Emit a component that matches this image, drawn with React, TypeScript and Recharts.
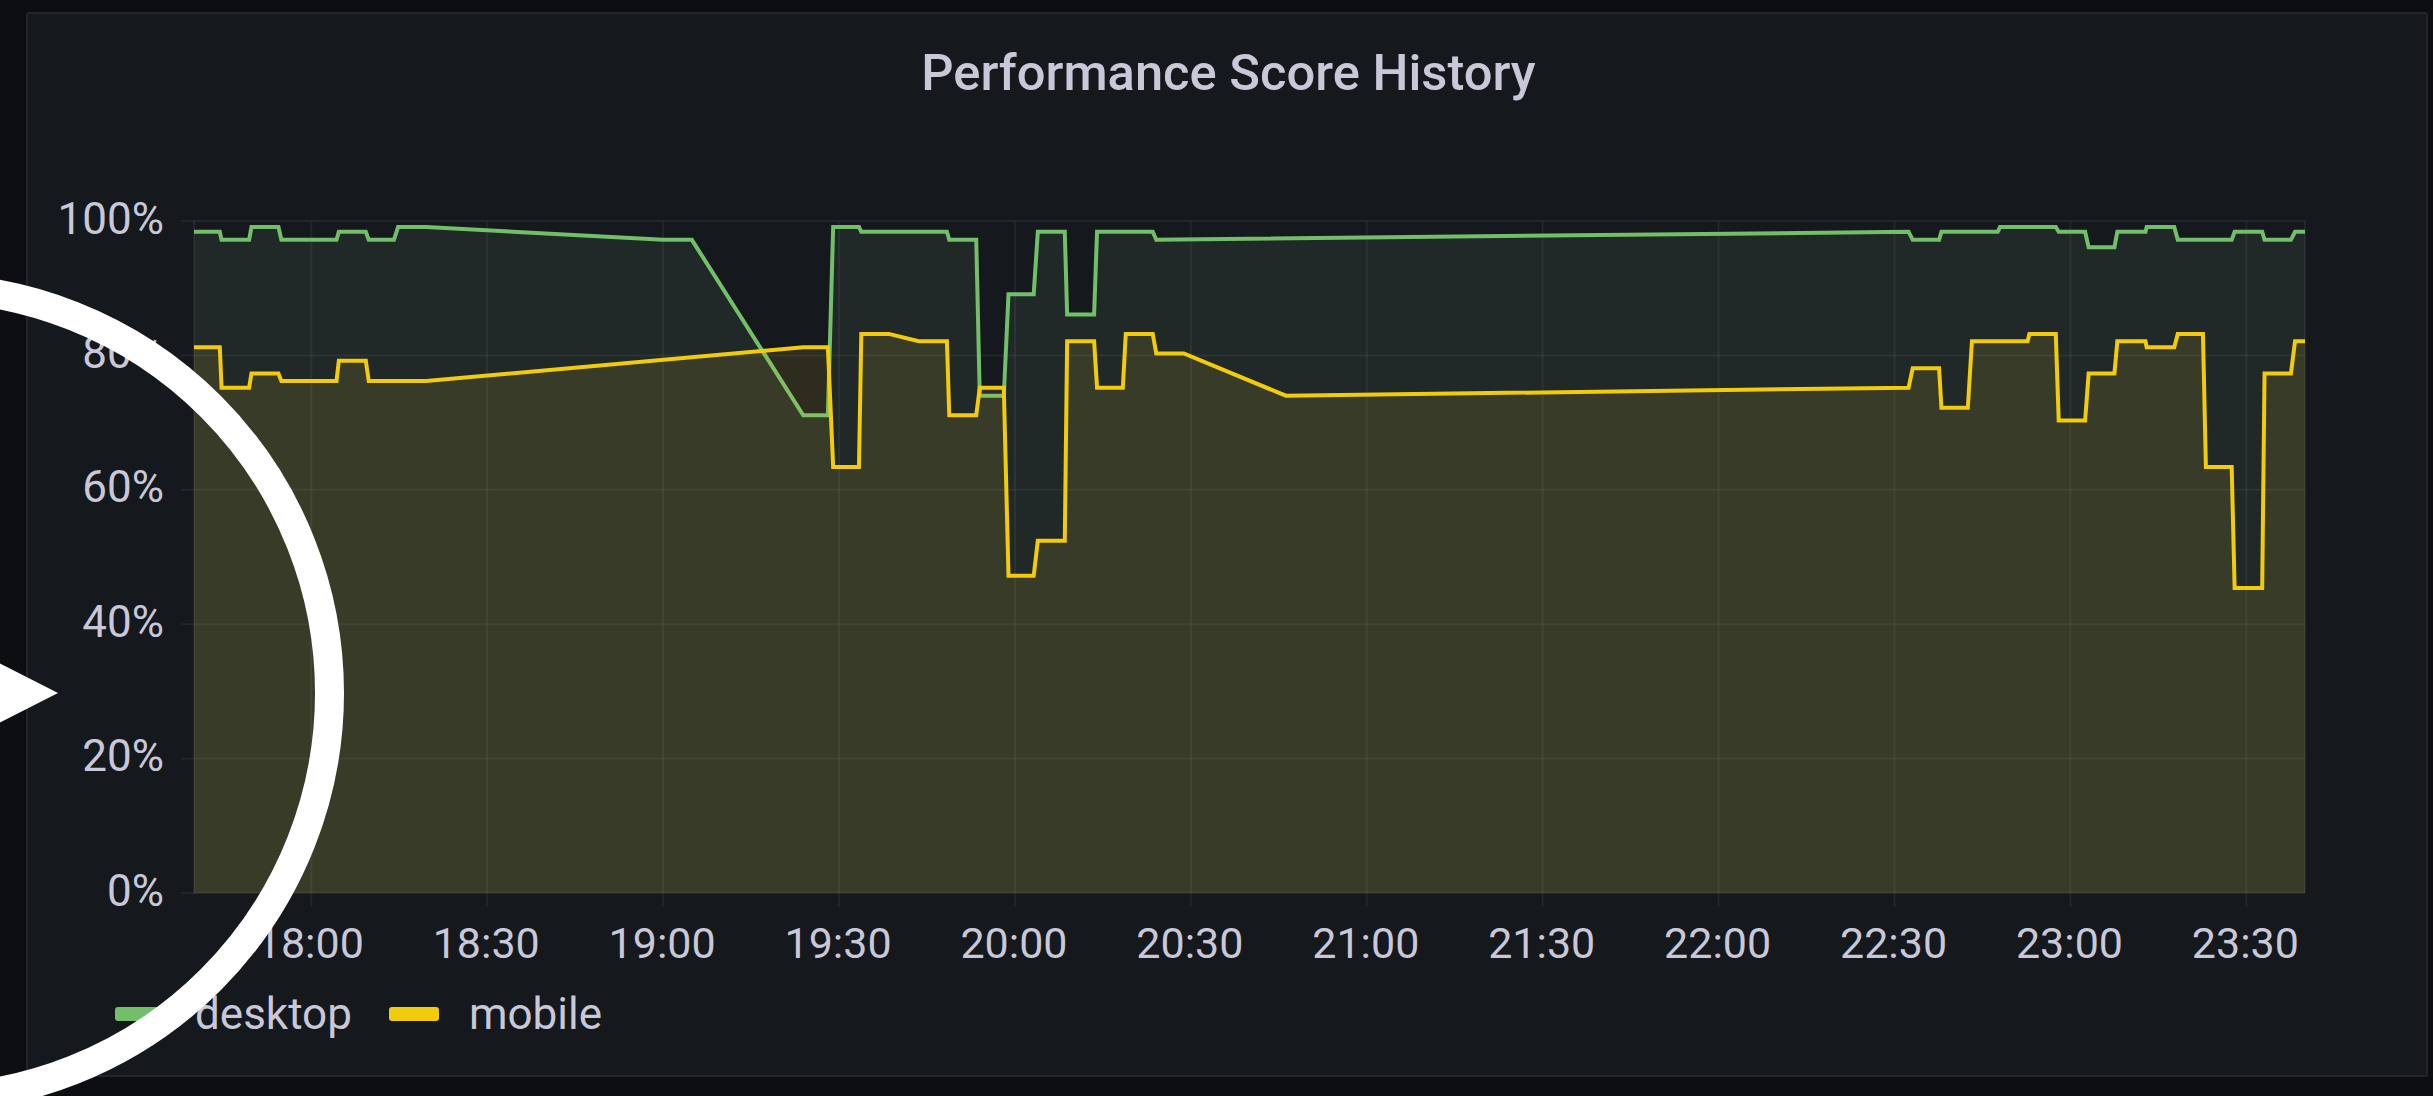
import { AreaChart, Area, XAxis, YAxis, CartesianGrid, Legend } from 'recharts'

const WIDTH = 2433
const HEIGHT = 1096

// minutes after 17:40, one entry per vertex of the traces
const minutes = [
  0, 4.4, 4.7, 9.4, 9.8, 14.4, 14.9, 24.3, 24.7, 29.3, 29.8, 34.1, 34.8, 39.6, 80, 84.9,
  103.9, 108.1, 109, 113.4, 113.8, 118.5, 123.6, 128.4, 128.8, 133.4, 134, 138.1, 138.9,
  143.2, 143.9, 148.5, 148.9, 153.5, 154, 158.4, 158.9, 163.5, 164.1, 168.8, 186.2,
  292.4, 293.1, 297.6, 298, 302.5, 303.2, 307.6, 308, 312.7, 313, 317.5, 318, 322.5, 323.1,
  327.5, 328, 332.8, 333, 337.7, 338.3, 342.6, 343.1, 347.5, 348, 352.7, 353.1, 357.6, 358.3, 360,
]

const desktop = [
  98.4, 98.4, 97.2, 97.2, 99.1, 99.1, 97.2, 97.2, 98.4, 98.4, 97.2, 97.2, 99.1, 99.1, 97.2, 97.2,
  71.1, 71.1, 99.1, 99.1, 98.4, null, null, 98.4, 97.2, 97.2, 74, 74, 89.1,
  89.1, 98.4, 98.4, 86.1, 86.1, 98.4, null, null, 98.4, 97.2, null, null,
  98.4, 97.2, 97.2, 98.4, null, null, 98.4, 99.1, null, null, 99.1, 98.4, 98.4, 96.1,
  96.1, 98.4, 98.4, 99.1, 99.1, 97.2, null, null, 97.2, 98.4, 98.4, 97.2, 97.2, 98.4, 98.4,
]

const mobile = [
  81.2, 81.2, 75.2, 75.2, 77.3, 77.3, 76.2, 76.2, 79.2, 79.2, 76.2, 76.2, 76.2, 76.2, null, null,
  81.2, 81.2, 63.4, 63.4, 83.2, 83.2, 82.1, 82.1, 71.1, 71.1, 75.2, 75.2, 47.2,
  47.2, 52.4, 52.4, 82.1, 82.1, 75.2, 75.2, 83.2, 83.2, 80.3, 80.3, 74,
  75.2, 78.1, 78.1, 72.2, 72.2, 82.1, 82.1, null, 82.1, 83.2, 83.2, 70.3, 70.3, 77.3,
  77.3, 82.1, 82.1, 81.2, 81.2, 83.2, 83.2, 63.4, 63.4, 45.4, 45.4, 77.3, 77.3, 82.1, 82.1,
]

const xTicks = [20, 50, 80, 110, 140, 170, 200, 230, 260, 290, 320, 350]
const xLabels = ['18:00', '18:30', '19:00', '19:30', '20:00', '20:30', '21:00', '21:30', '22:00', '22:30', '23:00', '23:30']
const yTicks = [0, 20, 40, 60, 80, 100]

const rows = minutes.map((minute, i) => ({ minute, desktop: desktop[i], mobile: mobile[i] }))

const GREEN = '#73BF69'
const YELLOW = '#F2CC0C'
const TEXT = '#c8c8d8'
const GRID = 'rgba(204, 204, 220, 0.075)'
const FONT = 'Roboto, sans-serif'

function ChartLegend({ payload }: any) {
  return (
    <div style={{ display: 'flex', alignItems: 'center', fontFamily: FONT, fontSize: 44, color: TEXT, height: 50 }}>
      {(payload || []).map((entry: any) => (
        <div key={entry.value} style={{ display: 'flex', alignItems: 'center', marginRight: 37 }}>
          <span style={{ width: 50, height: 14, borderRadius: 3, background: entry.color, marginRight: 30 }} />
          <span>{entry.value}</span>
        </div>
      ))}
    </div>
  )
}

export default function App() {
  return (
    <div style={{ position: 'absolute', left: 0, top: 0, width: WIDTH, height: HEIGHT, background: '#0d0e12', overflow: 'hidden' }}>
      <div
        style={{
          position: 'absolute', left: 26, top: 12, width: 2402, height: 1065, boxSizing: 'border-box',
          background: '#15181d', border: '2px solid #23252b', borderRadius: 3,
        }}
      />
      <div
        style={{
          position: 'absolute', left: 0, width: WIDTH, top: 43, textAlign: 'center', paddingLeft: 24, boxSizing: 'border-box',
          fontFamily: FONT, fontWeight: 500, fontSize: 50.7, lineHeight: '60px', color: TEXT,
        }}
      >
        Performance Score History
      </div>
      <AreaChart
        width={WIDTH}
        height={HEIGHT}
        data={rows}
        margin={{ top: 221, right: 128, bottom: 93, left: 94 }}
        style={{ position: 'absolute', left: 0, top: 0 }}
      >
        <CartesianGrid stroke={GRID} strokeWidth={2} />
        <XAxis
          dataKey="minute"
          type="number"
          domain={[0, 360]}
          ticks={xTicks}
          tickFormatter={(_v: number, i: number) => xLabels[i]}
          axisLine={false}
          tickLine={{ stroke: GRID, strokeWidth: 2 }}
          tickSize={14}
          tickMargin={20}
          height={60}
          interval={0}
          tick={{ fill: TEXT, fontSize: 43, fontFamily: FONT, dx: -1 }}
        />
        <YAxis
          type="number"
          domain={[0, 100]}
          ticks={yTicks}
          tickFormatter={(v: number) => `${v}%`}
          axisLine={false}
          tickLine={{ stroke: GRID, strokeWidth: 2 }}
          tickSize={13}
          tickMargin={17}
          width={100}
          interval={0}
          tick={{ fill: TEXT, fontSize: 44, fontFamily: FONT, dy: -3 }}
        />
        <Legend
          verticalAlign="bottom"
          align="left"
          content={<ChartLegend />}
          wrapperStyle={{ left: 115, bottom: 57, width: 700, height: 50 }}
        />
        <Area
          type="linear"
          dataKey="desktop"
          name="desktop"
          stroke={GREEN}
          strokeWidth={4}
          fill="#84b87c"
          fillOpacity={0.11}
          connectNulls
          dot={false}
          activeDot={false}
          isAnimationActive={false}
        />
        <Area
          type="linear"
          dataKey="mobile"
          name="mobile"
          stroke={YELLOW}
          strokeWidth={4}
          fill="#eccb30"
          fillOpacity={0.115}
          connectNulls
          dot={false}
          activeDot={false}
          isAnimationActive={false}
        />
      </AreaChart>
      {/* play button drawn over the screenshot */}
      <svg width={WIDTH} height={HEIGHT} style={{ position: 'absolute', left: 0, top: 0, pointerEvents: 'none' }}>
        <circle cx={-76} cy={693} r={405.5} fill="none" stroke="#ffffff" strokeWidth={29} />
        <polygon points="58,693 -40,643 -40,743" fill="#ffffff" />
      </svg>
    </div>
  )
}
